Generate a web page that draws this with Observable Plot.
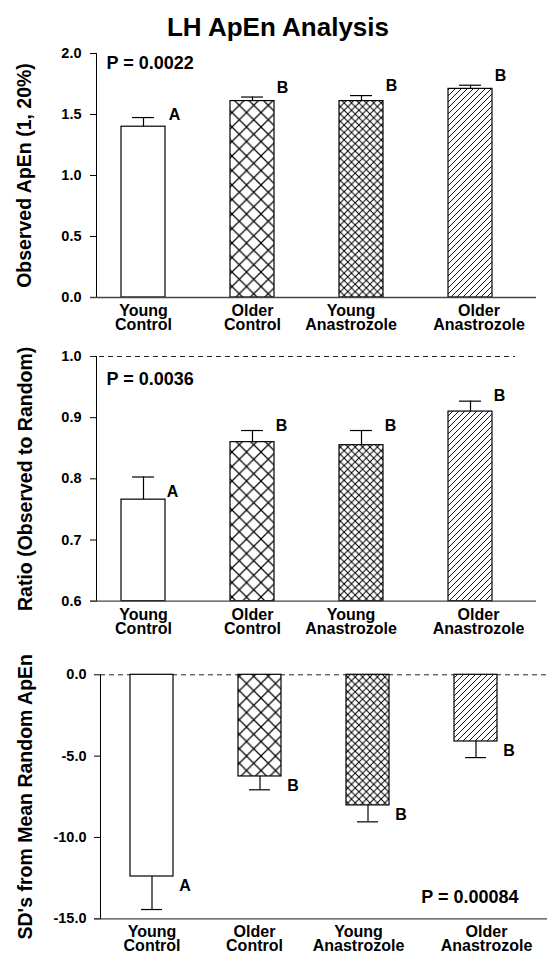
<!DOCTYPE html>
<html>
<head>
<meta charset="utf-8">
<script src="https://cdn.jsdelivr.net/npm/d3@7"></script>
<script src="https://cdn.jsdelivr.net/npm/@observablehq/plot@0.6"></script>
<style>
  body { margin: 0; background: #fff; width: 551px; height: 962px; position: relative; overflow: hidden;
         font-family: "Liberation Sans", Arial, Helvetica, sans-serif; }
  #title { position: absolute; left: 0; top: 12px; width: 556px; text-align: center;
           font-size: 26px; font-weight: bold; line-height: 30px; color: #000; }
  .panel { position: absolute; left: 0; }
</style>
</head>
<body>
<svg width="0" height="0" style="position:absolute">
  <defs>
    <pattern id="hatchCoarse" patternUnits="userSpaceOnUse" width="14.5" height="14.5">
      <rect width="14.5" height="14.5" fill="#fff"/>
      <path d="M0,0L14.5,14.5M14.5,0L0,14.5" stroke="#000" stroke-width="1.2"/>
    </pattern>
    <pattern id="hatchFine" patternUnits="userSpaceOnUse" width="7.4" height="7.4">
      <rect width="7.4" height="7.4" fill="#fff"/>
      <path d="M0,0L7.4,7.4M7.4,0L0,7.4" stroke="#000" stroke-width="1"/>
    </pattern>
    <pattern id="hatchDiag" patternUnits="userSpaceOnUse" width="6" height="6">
      <rect width="6" height="6" fill="#fff"/>
      <path d="M0,6L6,0M-1,1L1,-1M5,7L7,5" stroke="#000" stroke-width="0.9"/>
    </pattern>
  </defs>
</svg>
<div id="title">LH ApEn Analysis</div>
<div id="p1" class="panel" style="top:40px"></div>
<div id="p2" class="panel" style="top:336px"></div>
<div id="p3" class="panel" style="top:640px"></div>
<script>
// ---- data ----
const categories = ["Young Control", "Older Control", "Young Anastrozole", "Older Anastrozole"];
const categoryLabels = ["Young\nControl", "Older\nControl", "Young\nAnastrozole", "Older\nAnastrozole"];
const patternFills = ["#ffffff", "url(#hatchCoarse)", "url(#hatchFine)", "url(#hatchDiag)"];
const letters = ["A", "B", "B", "B"];

const apenMean = [1.40, 1.61, 1.61, 1.71];
const apenSE = [0.075, 0.033, 0.045, 0.03];
const apenTicks = [0, 0.5, 1.0, 1.5, 2.0];

const ratioMean = [0.766, 0.860, 0.855, 0.910];
const ratioSE = [0.037, 0.019, 0.024, 0.017];
const ratioTicks = [0.6, 0.7, 0.8, 0.9, 1.0];

const sdMean = [-12.4, -6.25, -8.03, -4.1];
const sdSE = [2.03, 0.82, 1.01, 0.99];
const sdTicks = [-15, -10, -5, 0];

const pValues = ["P = 0.0022", "P = 0.0036", "P = 0.00084"];
const yLabels = ["Observed ApEn (1, 20%)", "Ratio (Observed to Random)", "SD's from Mean Random ApEn"];

// ---- helpers ----
function rowsFor(means, ses, dir) {
  return categories.map((c, i) => ({
    cat: c, label: categoryLabels[i], mean: means[i],
    err: means[i] + dir * ses[i], letter: letters[i], fill: patternFills[i]
  }));
}

const FONT = '"Liberation Sans", Arial, Helvetica, sans-serif';

function catLabelMarks(rows, shifts) {
  return rows.map((r, i) => Plot.text([r], {
    x: "cat", text: "label", frameAnchor: "bottom", dx: shifts[i], dy: 21,
    lineAnchor: "middle", lineHeight: 0.88, fontSize: 16, fontWeight: "bold", fill: "#000"
  }));
}

function panel(cfg) {
  const rows = cfg.rows;
  const marks = [
    ...(cfg.dashY !== undefined ? [Plot.ruleY([cfg.dashY], {stroke: "#222", strokeWidth: 1, strokeDasharray: "5,4", insetLeft: cfg.dashInsetLeft, insetRight: cfg.dashInsetRight})] : []),
    Plot.barY(rows, {x: "cat", y1: cfg.base, y2: "mean", fill: "fill", stroke: "#000", strokeWidth: 1.2}),
    Plot.ruleX(rows, {x: "cat", y1: "mean", y2: "err", stroke: "#000", strokeWidth: 1.2}),
    Plot.tickY(rows, {x: "cat", y: "err", stroke: "#000", strokeWidth: 1.2, insetLeft: 11, insetRight: 11}),
    Plot.ruleY([cfg.yDomain[0]], {stroke: "#444", strokeWidth: 1.3, insetLeft: -6}),
    ...cfg.letterMarks,
    ...catLabelMarks(rows, cfg.labelShifts),
    Plot.text([cfg.yLabel], {text: d => d, frameAnchor: "left", textAnchor: "middle", dx: cfg.yLabelDx, rotate: -90,
      fontSize: 19.5, fontWeight: "bold", fill: "#000"}),
    Plot.text([cfg.p], {text: d => d, ...cfg.pOpts, fontSize: 18, fontWeight: "bold", fill: "#000", lineAnchor: "middle"})
  ];
  return Plot.plot({
    width: 551, height: cfg.height,
    marginTop: cfg.marginTop, marginBottom: cfg.marginBottom,
    marginLeft: cfg.marginLeft, marginRight: cfg.marginRight,
    style: {fontFamily: FONT, fontSize: "14.5px", fontWeight: "bold", color: "#000", background: "transparent", overflow: "visible"},
    x: {domain: categories, range: cfg.xRange, paddingInner: 0.6, paddingOuter: 0, axis: null},
    y: {domain: cfg.yDomain, ticks: cfg.ticks, tickFormat: d => d.toFixed(1), tickSize: 6,
        tickPadding: cfg.tickPadding, line: true, label: null},
    color: {type: "identity"},
    marks
  });
}

// ---- panel 1 ----
const rows1 = rowsFor(apenMean, apenSE, 1);
document.getElementById("p1").appendChild(panel({
  rows: rows1, height: 294, marginTop: 13, marginBottom: 37, marginLeft: 96, marginRight: 15,
  xRange: [121, 492], yDomain: [0, 2], ticks: apenTicks, base: 0, tickPadding: 9,
  yLabel: yLabels[0], yLabelDx: -72, p: pValues[0],
  pOpts: {frameAnchor: "top-left", dx: 10, dy: 10, textAnchor: "start"},
  labelShifts: [0, 0, -10.5, 8.5],
  letterMarks: [
    Plot.text(rows1, {filter: d => d.letter === "A", x: "cat", y: "err", text: "letter", dx: 31, dy: -3, fontSize: 16, fontWeight: "bold", fill: "#000"}),
    Plot.text(rows1, {filter: d => d.letter === "B", x: "cat", y: "err", text: "letter", dx: 30, dy: -9.5, fontSize: 16, fontWeight: "bold", fill: "#000"})
  ]
}));

// ---- panel 2 ----
const rows2 = rowsFor(ratioMean, ratioSE, 1);
document.getElementById("p2").appendChild(panel({
  rows: rows2, height: 304, marginTop: 20, marginBottom: 39.3, marginLeft: 96, marginRight: 15,
  xRange: [121, 492], yDomain: [0.6, 1.0], ticks: ratioTicks, base: 0.6, tickPadding: 9,
  dashY: 1.0, dashInsetLeft: -6, dashInsetRight: 21,
  yLabel: yLabels[1], yLabelDx: -71, p: pValues[1],
  pOpts: {frameAnchor: "top-left", dx: 10, dy: 23, textAnchor: "start"},
  labelShifts: [0, 0, -10.5, 8],
  letterMarks: [
    Plot.text(rows2, {filter: d => d.letter === "A", x: "cat", y: "mean", text: "letter", dx: 29, dy: -8, fontSize: 16, fontWeight: "bold", fill: "#000"}),
    Plot.text(rows2, {filter: d => d.letter === "B", x: "cat", y: "err", text: "letter", dx: 29, dy: -5, fontSize: 16, fontWeight: "bold", fill: "#000"})
  ]
}));

// ---- panel 3 ----
const rows3 = rowsFor(sdMean, sdSE, -1);
document.getElementById("p3").appendChild(panel({
  rows: rows3, height: 322, marginTop: 34.3, marginBottom: 43.7, marginLeft: 100, marginRight: 4,
  xRange: [128.5, 499], yDomain: [-15, 0], ticks: sdTicks, base: 0, tickPadding: 8,
  dashY: 0, dashInsetLeft: 0, dashInsetRight: 0,
  yLabel: yLabels[2], yLabelDx: -75, p: pValues[2],
  pOpts: {frameAnchor: "bottom-right", dx: -29, dy: -21.6, textAnchor: "end"},
  labelShifts: [0, -5.5, -9.5, 10.5],
  letterMarks: [
    Plot.text(rows3, {x: "cat", y: "mean", text: "letter", dx: 33, dy: 9, fontSize: 16, fontWeight: "bold", fill: "#000"})
  ]
}));
</script>
</body>
</html>
